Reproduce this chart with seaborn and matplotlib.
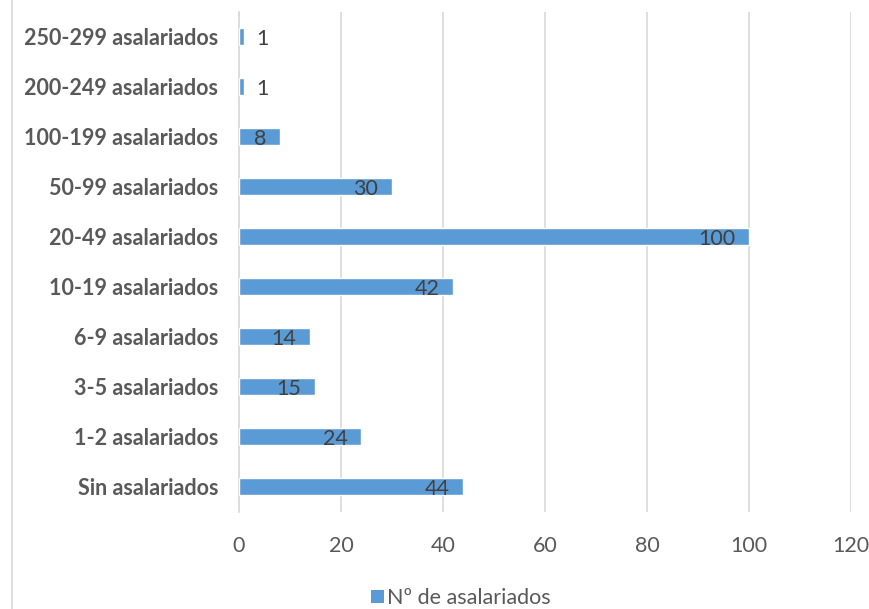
import matplotlib
matplotlib.use("Agg")
import matplotlib.pyplot as plt
from matplotlib.lines import Line2D
from matplotlib.patches import Patch
import seaborn as sns
import pandas as pd

categories = [
    "250-299 asalariados",
    "200-249 asalariados",
    "100-199 asalariados",
    "50-99 asalariados",
    "20-49 asalariados",
    "10-19 asalariados",
    "6-9 asalariados",
    "3-5 asalariados",
    "1-2 asalariados",
    "Sin asalariados",
]
values = [1, 1, 8, 30, 100, 42, 14, 15, 24, 44]
series_name = "Nº de asalariados"
x_ticks = [0, 20, 40, 60, 80, 100, 120]

df = pd.DataFrame({"cat": categories, "val": values})

sns.set_theme(style="white")
plt.rcParams["font.family"] = ["Lato", "DejaVu Sans"]

BAR = "#5B9BD5"
GRID = "#D9D9D9"
FS = 15.5

fig = plt.figure(figsize=(8.7, 6.09), dpi=100)
ax = fig.add_axes([239 / 870, 1 - 512 / 609, (851 - 239) / 870, 500 / 609])

sns.barplot(data=df, x="val", y="cat", order=categories, color=BAR,
            width=0.34, saturation=1, ax=ax, zorder=3)

ax.set_xlim(0, 120)
ax.set_xticks(x_ticks)
ax.set_xticklabels([str(t) for t in x_ticks], fontsize=FS, color="#595959")
ax.tick_params(axis="x", length=0, pad=17)
ax.tick_params(axis="y", length=0, pad=15)
for lbl in ax.get_yticklabels():
    lbl.set_fontsize(FS)
    lbl.set_fontweight("bold")
    lbl.set_color("#595959")
ax.set_xlabel("")
ax.set_ylabel("")
ax.xaxis.grid(True, color=GRID, linewidth=1.2, zorder=0)
ax.yaxis.grid(False)
for s in ["top", "right", "bottom"]:
    ax.spines[s].set_visible(False)
ax.spines["left"].set_color(GRID)
ax.spines["left"].set_linewidth(1.2)

# value labels: inside end when the bar is long enough, otherwise outside
for i, v in enumerate(values):
    if v >= 5:
        ax.annotate(str(v), xy=(v, i), xytext=(-10, -1.5), textcoords="offset points",
                    ha="right", va="center", fontsize=FS, color="#404040", zorder=4)
    else:
        ax.annotate(str(v), xy=(v, i), xytext=(9, -1.5), textcoords="offset points",
                    ha="left", va="center", fontsize=FS, color="#404040", zorder=4)

# legend below the plot
handle = Patch(facecolor=BAR, edgecolor="none")
fig.legend([handle], [series_name], loc="center", bbox_to_anchor=(461 / 870, 1 - 598 / 609),
           frameon=False, fontsize=FS, handlelength=0.6, handleheight=0.6,
           handletextpad=0.15, labelcolor="#595959")

# thin chart-area border on the left edge
fig.add_artist(Line2D([12 / 870, 12 / 870], [0, 1], transform=fig.transFigure,
                      color=GRID, linewidth=1.2))

fig.savefig("out.png", dpi=100)
